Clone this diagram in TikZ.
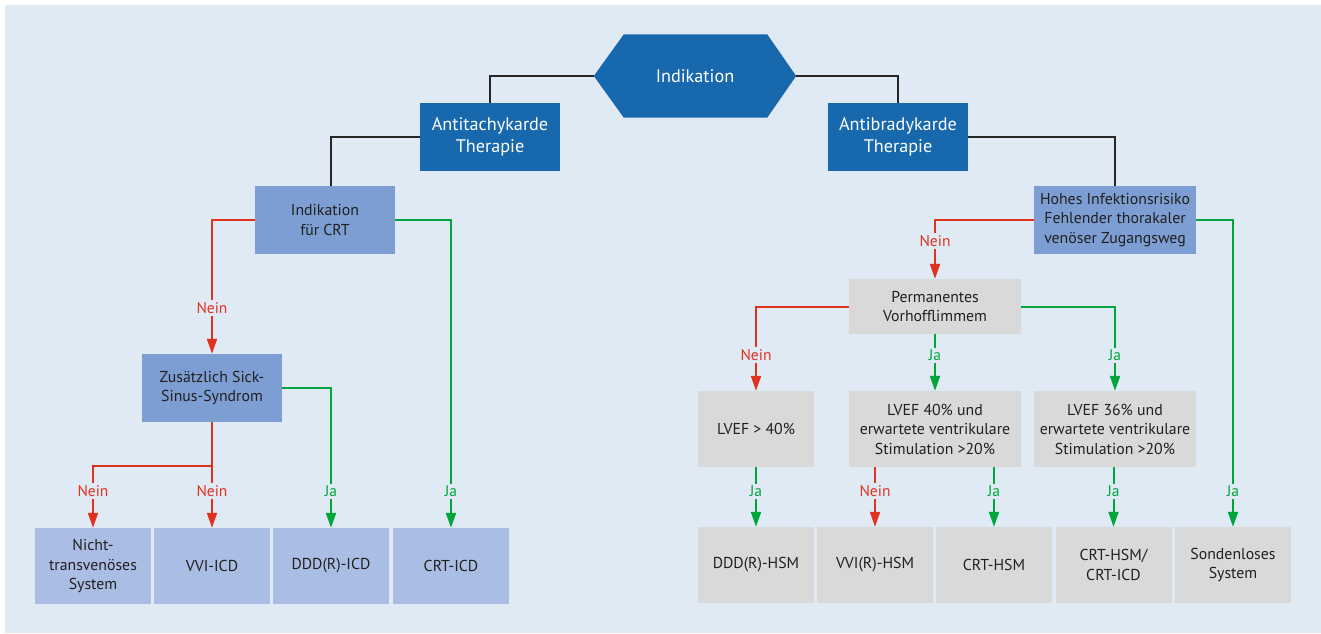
\documentclass[tikz,border=0pt]{standalone}
\usepackage{fontspec}
\setmainfont{PT Sans}
\usetikzlibrary{arrows.meta,backgrounds}
\definecolor{bgc}{HTML}{E0EAF4}
\definecolor{dblue}{HTML}{1868AE}
\definecolor{mblue}{HTML}{7C9ED2}
\definecolor{lblue}{HTML}{AABDE4}
\definecolor{gbox}{HTML}{D9D9D9}
\definecolor{redc}{HTML}{E2311D}
\definecolor{greenc}{HTML}{00A63C}
\definecolor{txt}{HTML}{231F20}
\tikzset{
  box/.style={inner sep=0pt, align=center, text=txt, font=\fontsize{15.8}{19.5}\selectfont},
  topbox/.style={box, fill=dblue, text=white, minimum width=140pt, minimum height=68pt, font=\fontsize{18.2}{22}\selectfont},
  midbox/.style={box, fill=mblue, minimum height=68pt},
  leafbox/.style={box, fill=lblue, minimum width=116pt, minimum height=76pt},
  graybox/.style={box, fill=gbox},
  blk/.style={draw=black!85, line width=2pt},
  nein/.style={draw=redc, line width=2pt},
  ja/.style={draw=greenc, line width=2pt},
  tip/.style={-{Triangle[width=10pt,length=15pt]}},
  neinlab/.style={fill=bgc, text=redc, inner sep=2pt, font=\fontsize{15.5}{17}\selectfont},
  jalab/.style={fill=bgc, text=greenc, inner sep=2pt, font=\fontsize{15.5}{17}\selectfont},
}
\begin{document}
\begin{tikzpicture}[x=1pt,y=-1pt]
\useasboundingbox (0,0) rectangle (1321,633);

% top
\node[box, text=white, minimum width=202pt, minimum height=83pt, font=\fontsize{18.2}{22}\selectfont] (ind) at (695,76) {Indikation};
\node[topbox] (att) at (490,137) {Antitachykarde\\Therapie};
\node[topbox] (abt) at (898,137) {Antibradykarde\\Therapie};

% left branch
\node[midbox, minimum width=140pt] (crt) at (325,220) {Indikation\\für CRT};
\node[midbox, minimum width=140pt] (zus) at (212,388) {Zusätzlich Sick-\\Sinus-Syndrom};
\node[leafbox] (b1) at (93,566) {Nicht-\\transvenöses\\System};
\node[leafbox] (b2) at (212,566) {VVI-ICD};
\node[leafbox] (b3) at (331,566) {DDD(R)-ICD};
\node[leafbox] (b4) at (451,566) {CRT-ICD};

% right branch
\node[midbox, minimum width=162pt] (hoh) at (1115,220) {Hohes Infektionsrisiko\\Fehlender thorakaler\\venöser Zugangsweg};
\node[graybox, minimum width=172pt, minimum height=55pt] (perm) at (935,306.5) {Permanentes\\Vorhofflimmem};
\node[graybox, minimum width=116pt, minimum height=76pt] (lv1) at (756,429) {LVEF > 40\%};
\node[graybox, minimum width=172pt, minimum height=76pt] (lv2) at (935,429) {LVEF 40\% und\\erwartete ventrikulare\\Stimulation >20\%};
\node[graybox, minimum width=162pt, minimum height=76pt] (lv3) at (1115,429) {LVEF 36\% und\\erwartete ventrikulare\\Stimulation >20\%};
\node[graybox, minimum width=116pt, minimum height=76pt] (r1) at (756,565) {DDD(R)-HSM};
\node[graybox, minimum width=116pt, minimum height=76pt] (r2) at (875,565) {VVI(R)-HSM};
\node[graybox, minimum width=116pt, minimum height=76pt] (r3) at (994,565) {CRT-HSM};
\node[graybox, minimum width=116pt, minimum height=76pt] (r4) at (1113.5,565) {CRT-HSM/\\CRT-ICD};
\node[graybox, minimum width=116pt, minimum height=76pt] (r5) at (1233,565) {Sondenloses\\System};

\begin{scope}[on background layer]
  \fill[bgc] (5,5) rectangle (1321,633);
  \fill[dblue] (ind.west) -- ([xshift=30pt]ind.north west) -- ([xshift=-29pt]ind.north east)
     -- (ind.east) -- ([xshift=-29pt]ind.south east) -- ([xshift=30pt]ind.south west) -- cycle;
  % black connectors
  \draw[blk] (ind.west) -| (att.north);
  \draw[blk] (ind.east) -| (abt.north);
  \draw[blk] (att.west) -| ([xshift=6pt]crt.north);
  \draw[blk] (abt.east) -| (hoh.north);
\end{scope}

% left branch connectors
\draw[nein, tip] (crt.west) -| (zus.north);
\node[neinlab] (l1) at (212,308) {Nein};
\draw[ja, tip] (crt.east) -| (b4.north);
\node[jalab] (l2) at (451,491) {Ja};
\draw[ja, tip] (zus.east) -| (b3.north);
\node[jalab] (l3) at (331,491) {Ja};
\coordinate (split) at (212,466);
\draw[nein] (zus.south) -- (split);
\draw[nein, tip] (split) -| (b1.north);
\draw[nein, tip] (split) -- (b2.north);
\node[neinlab] (l4) at (93,491) {Nein};
\node[neinlab] (l5) at (212,491) {Nein};

% right branch connectors
\draw[nein, tip] (hoh.west) -| (perm.north);
\node[neinlab] (l6) at (935,241) {Nein};
\draw[ja, tip] (hoh.east) -| (r5.north);
\node[jalab] (l7) at (1233,491) {Ja};
\draw[nein, tip] (perm.west) -| (lv1.north);
\node[neinlab] (l8) at (756,355) {Nein};
\draw[ja, tip] (perm.south) -- (lv2.north);
\node[jalab] (l9) at (935,355) {Ja};
\draw[ja, tip] (perm.east) -| (lv3.north);
\node[jalab] (l10) at (1115,355) {Ja};
\draw[ja, tip] (lv1.south) -- (r1.north);
\node[jalab] (l11) at (756,491) {Ja};
\draw[nein, tip] (lv2.south -| r2.north) -- (r2.north);
\node[neinlab] (l12) at (875,491) {Nein};
\draw[ja, tip] (lv2.south -| r3.north) -- (r3.north);
\node[jalab] (l13) at (994,491) {Ja};
\draw[ja, tip] (lv3.south -| r4.north) -- (r4.north);
\node[jalab] (l14) at (1113.5,491) {Ja};
\end{tikzpicture}
\end{document}
